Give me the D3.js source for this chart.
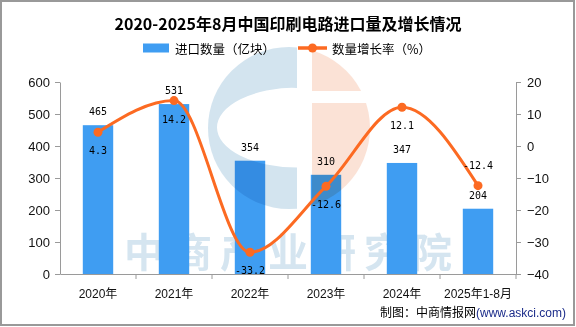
<!DOCTYPE html>
<html>
<head>
<meta charset="utf-8">
<script src="https://cdn.jsdelivr.net/npm/d3@7"></script>
<style>
  html, body { margin: 0; padding: 0; background: #fff; }
  svg { display: block; }
  .cjk { font-family: "Noto Sans CJK SC", "Noto Sans", sans-serif; }
</style>
</head>
<body>
<svg id="chart" width="576" height="327"></svg>
<script>
// Import volume of printed circuits, 2020 – Aug 2025
const categories = ["2020年", "2021年", "2022年", "2023年", "2024年", "2025年1-8月"];
const volume = [465, 531, 354, 310, 347, 204];          // 亿块
const growth = [4.3, 14.2, -33.2, -12.6, 12.1, -12.4];   // %
const leftTicks = [0, 100, 200, 300, 400, 500, 600];
const rightTicks = [-40, -30, -20, -10, 0, 10, 20];

const BAR = "#3F9DF2";
const LINE = "#FC6A22";
const AXIS = "#9a9a9a";

const svg = d3.select("#chart");
const plot = { left: 60, right: 516, top: 82, bottom: 274 };

const x = d3.scaleBand().domain(categories)
  .range([plot.left, plot.right]).paddingInner(0.6).paddingOuter(0.3);
const yL = d3.scaleLinear().domain([0, 600]).range([plot.bottom, plot.top]);
const yR = d3.scaleLinear().domain([-40, 20]).range([plot.bottom, plot.top]);
const cx = c => x(c) + x.bandwidth() / 2;

// frame
svg.append("rect").attr("x", 1).attr("y", 1).attr("width", 573).attr("height", 324)
  .attr("fill", "#fff").attr("stroke", "#999").attr("stroke-width", 2);

// watermark text
svg.append("text").attr("class", "cjk")
  .attr("x", 292).attr("y", 267).attr("text-anchor", "middle")
  .attr("font-size", 40).attr("font-weight", 700).attr("letter-spacing", 8)
  .attr("fill", "#D5E5F0").text("中商产业研究院");

// bars
svg.append("g").selectAll("rect").data(volume).join("rect")
  .attr("x", (d, i) => x(categories[i]))
  .attr("y", d => yL(d))
  .attr("width", x.bandwidth())
  .attr("height", d => yL(0) - yL(d))
  .attr("fill", BAR);

// round logo watermark, blended over the bars
const defs = svg.append("defs");
defs.append("clipPath").attr("id", "logoClip")
  .append("circle").attr("cx", 289).attr("cy", 128).attr("r", 81);
const logo = svg.append("g").attr("clip-path", "url(#logoClip)")
  .style("mix-blend-mode", "multiply");
logo.append("path")
  .attr("d", "M208,47H297V209H208Z M297,87.5A80,40 0 0,0 297,167.5Z")
  .attr("fill-rule", "evenodd").attr("fill", "#D3E4EF");
logo.append("rect").attr("x", 312).attr("y", 47).attr("width", 60).attr("height", 44).attr("fill", "#FBE2D6");
logo.append("rect").attr("x", 312).attr("y", 103).attr("width", 60).attr("height", 108).attr("fill", "#FBE2D6");

// axes
const tickFont = "'Liberation Sans', Arial, sans-serif";
const gL = svg.append("g").attr("transform", `translate(${plot.left},0)`)
  .call(d3.axisLeft(yL).tickValues(leftTicks).tickSize(5).tickPadding(5).tickSizeOuter(0));
const gR = svg.append("g").attr("transform", `translate(${plot.right},0)`)
  .call(d3.axisRight(yR).tickValues(rightTicks).tickSize(5).tickPadding(6).tickSizeOuter(0));
const gB = svg.append("g").attr("transform", `translate(0,${plot.bottom})`)
  .call(d3.axisBottom(x).tickSize(0).tickPadding(15).tickSizeOuter(0));
[gL, gR, gB].forEach(g => {
  g.selectAll("path.domain").attr("stroke", AXIS);
  g.selectAll(".tick line").attr("stroke", AXIS);
  g.selectAll("text").attr("fill", "#111").attr("font-family", tickFont);
});
gL.selectAll("text").attr("font-size", 13);
gR.selectAll("text").attr("font-size", 13);
gB.selectAll("text").attr("font-size", 12)
  .attr("font-family", "'Liberation Sans', 'Noto Sans CJK SC', sans-serif");
// category separators
const step = x.step();
const bounds = d3.range(categories.length + 1).map(i => plot.left + i * step);
gB.selectAll("line.sep").data(bounds.slice(1)).join("line").attr("class", "sep")
  .attr("x1", d => d).attr("x2", d => d).attr("y1", 0).attr("y2", 5).attr("stroke", AXIS);

// bar value labels
const monoFont = "'DejaVu Sans Mono', monospace";
svg.append("g").selectAll("text").data(volume).join("text")
  .attr("x", (d, i) => cx(categories[i]))
  .attr("y", d => yL(d) - 10)
  .attr("text-anchor", "middle").attr("font-family", monoFont).attr("font-size", 10)
  .attr("fill", "#000").text(d => d);

// growth line
const pts = growth.map((g, i) => [cx(categories[i]), yR(g)]);
svg.append("path").datum(pts)
  .attr("d", d3.line().curve(d3.curveMonotoneX))
  .attr("fill", "none").attr("stroke", LINE).attr("stroke-width", 3);
svg.append("g").selectAll("circle").data(pts).join("circle")
  .attr("cx", d => d[0]).attr("cy", d => d[1]).attr("r", 4.5).attr("fill", LINE);

// growth labels (last one sits above its point)
svg.append("g").selectAll("text").data(growth).join("text")
  .attr("x", (d, i) => cx(categories[i]))
  .attr("y", (d, i) => i === growth.length - 1 ? yR(d) - 17 : yR(d) + 22)
  .attr("text-anchor", "middle").attr("font-family", monoFont).attr("font-size", 10)
  .attr("fill", "#000").text(d => d3.format(".1f")(d).replace("−", "-"));

// title
svg.append("text").attr("class", "cjk")
  .attr("x", 288).attr("y", 30).attr("text-anchor", "middle")
  .attr("font-size", 16).attr("font-weight", 700).attr("fill", "#000")
  .text("2020-2025年8月中国印刷电路进口量及增长情况");

// legend
const lg = svg.append("g");
lg.append("rect").attr("x", 143).attr("y", 43.5).attr("width", 26).attr("height", 9).attr("fill", BAR);
lg.append("text").attr("class", "cjk").attr("x", 175).attr("y", 48)
  .attr("dominant-baseline", "central").attr("font-size", 12.5).attr("fill", "#000")
  .text("进口数量（亿块）");
lg.append("line").attr("x1", 298).attr("x2", 327).attr("y1", 48).attr("y2", 48)
  .attr("stroke", LINE).attr("stroke-width", 3.5);
lg.append("circle").attr("cx", 312.5).attr("cy", 48).attr("r", 4.5).attr("fill", LINE);
lg.append("text").attr("class", "cjk").attr("x", 332).attr("y", 48)
  .attr("dominant-baseline", "central").attr("font-size", 12.5).attr("fill", "#000")
  .text("数量增长率（%）");

// source note
const src = svg.append("text").attr("x", 566).attr("y", 317).attr("text-anchor", "end")
  .attr("font-size", 12);
src.append("tspan").attr("class", "cjk").attr("fill", "#000").text("制图：中商情报网");
src.append("tspan").attr("font-family", "'Liberation Sans', Arial, sans-serif")
  .attr("fill", "#1B2C8A").text("(www.askci.com)");
</script>
</body>
</html>
